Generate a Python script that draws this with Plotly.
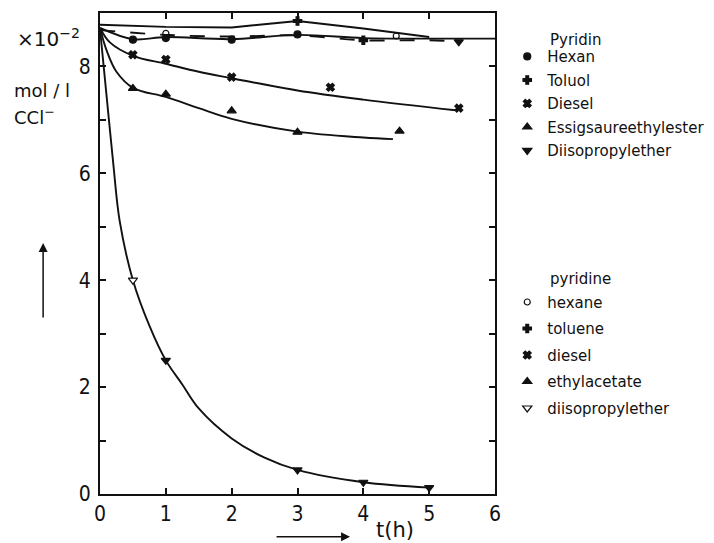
import plotly.graph_objects as go

# ---------------- data ----------------
# German legend group "Pyridin" (markers)
hexan_t = [0.5, 1, 2, 3]
hexan_c = [8.50, 8.53, 8.50, 8.60]
toluol_t = [4]
toluol_c = [8.49]
diesel_t = [0.5, 1, 2, 5.45]
diesel_c = [8.22, 8.13, 7.80, 7.22]
essig_t = [0.5, 1, 2, 3]
essig_c = [7.59, 7.48, 7.17, 6.77]
diiso_t = [1, 3, 4, 5, 5.45]
diiso_c = [2.50, 0.45, 0.22, 0.12, 8.46]

# English legend group "pyridine" (markers)
hexane_t = [1, 4.5]
hexane_c = [8.62, 8.57]
toluene_t = [3]
toluene_c = [8.85]
diesel_en_t = [3.5]
diesel_en_c = [7.61]
ethyl_t = [4.55]
ethyl_c = [6.79]
diiso_en_t = [0.5]
diiso_en_c = [4.00]

# drawn curves
curve_hexan_t = [0, 0.5, 1, 2, 3, 4, 5, 6]
curve_hexan_c = [8.72, 8.51, 8.55, 8.51, 8.59, 8.53, 8.52, 8.52]
curve_toluol_t = [0, 1, 2, 3, 4, 5, 5.45]
curve_toluol_c = [8.68, 8.59, 8.56, 8.58, 8.49, 8.49, 8.47]
curve_top_t = [0, 1, 2, 3, 4, 5]
curve_top_c = [8.78, 8.74, 8.73, 8.85, 8.71, 8.55]
curve_diesel_t = [0, 0.15, 0.5, 1, 1.5, 2, 3, 4, 5.4]
curve_diesel_c = [8.72, 8.45, 8.20, 8.05, 7.90, 7.78, 7.55, 7.38, 7.18]
curve_essig_t = [0, 0.1, 0.25, 0.5, 1, 1.5, 2, 3, 4, 4.45]
curve_essig_c = [8.72, 8.30, 7.90, 7.60, 7.43, 7.22, 7.02, 6.78, 6.67, 6.64]
curve_diiso_t = [0, 0.1, 0.2, 0.3, 0.5, 0.75, 1, 1.25, 1.5, 2, 2.5, 3, 4, 5]
curve_diiso_c = [8.70, 7.45, 6.20, 5.10, 4.00, 3.15, 2.50, 2.05, 1.60, 1.04, 0.68, 0.45, 0.22, 0.12]

x_ticks = [0, 1, 2, 3, 4, 5, 6]
y_ticks = [0, 1, 2, 3, 4, 5, 6, 7, 8]
y_ticktext = ["0", "", "2", "", "4", "", "6", "", "8"]

# ---------------- figure ----------------
FONT = "DejaVu Sans, Liberation Sans, sans-serif"
TICKFONT = "Liberation Sans Narrow, DejaVu Sans Condensed, sans-serif"
BLACK = "#111111"

fig = go.Figure()

def curve(t, c, shape="spline", dash="solid"):
    fig.add_trace(go.Scatter(x=t, y=c, mode="lines", showlegend=False,
                             line=dict(color=BLACK, width=1.9, shape=shape, dash=dash),
                             hoverinfo="skip"))

curve(curve_top_t, curve_top_c, shape="linear")
curve(curve_toluol_t, curve_toluol_c, dash="longdash")
curve(curve_hexan_t, curve_hexan_c)
curve(curve_diesel_t, curve_diesel_c)
curve(curve_essig_t, curve_essig_c)
curve(curve_diiso_t, curve_diiso_c)

def marks(t, c, name, symbol, size, legend, fill=BLACK):
    fig.add_trace(go.Scatter(x=t, y=c, mode="markers", name=name, legend=legend,
                             legendgroup=name,
                             marker=dict(symbol=symbol, size=size, color=fill,
                                         line=dict(color=BLACK, width=1.2))))

marks(hexan_t, hexan_c, "Hexan", "circle", 7, "legend")
marks(toluol_t, toluol_c, "Toluol", "cross", 7, "legend")
marks(diesel_t, diesel_c, "Diesel", "x", 7, "legend")
marks(essig_t, essig_c, "Essigsaureethylester", "triangle-up", 8, "legend")
marks(diiso_t, diiso_c, "Diisopropylether", "triangle-down", 8, "legend")

marks(hexane_t, hexane_c, "hexane", "circle-open", 6, "legend2")
marks(toluene_t, toluene_c, "toluene", "cross", 7, "legend2")
marks(diesel_en_t, diesel_en_c, "diesel", "x", 7, "legend2")
marks(ethyl_t, ethyl_c, "ethylacetate", "triangle-up", 8, "legend2")
marks(diiso_en_t, diiso_en_c, "diisopropylether", "triangle-down", 8, "legend2", fill="white")

axis_common = dict(showline=True, linecolor=BLACK, linewidth=2, mirror="ticks",
                   ticks="inside", ticklen=6, tickwidth=1.5, tickcolor=BLACK,
                   showgrid=False, zeroline=False,
                   tickfont=dict(family=TICKFONT, size=21, color=BLACK))

fig.update_layout(
    width=714, height=543,
    margin=dict(l=92, r=227, t=3, b=57),
    paper_bgcolor="white", plot_bgcolor="white",
    font=dict(family=FONT, color=BLACK),
    xaxis=dict(range=[0, 6], tickvals=x_ticks, ticklabelstandoff=0, **axis_common),
    yaxis=dict(range=[0, 9], tickvals=y_ticks, ticktext=y_ticktext, ticklabelstandoff=3,
               **axis_common),
    legend=dict(x=1.031, y=0.9435, xanchor="left", yanchor="top", bgcolor="rgba(0,0,0,0)",
                font=dict(family=FONT, size=15, color=BLACK), itemwidth=30,
                traceorder="grouped", tracegroupgap=1, itemclick=False),
    legend2=dict(x=1.031, y=0.433, xanchor="left", yanchor="top", bgcolor="rgba(0,0,0,0)",
                 font=dict(family=FONT, size=15, color=BLACK), itemwidth=30,
                 traceorder="grouped", tracegroupgap=4, itemclick=False),
    showlegend=True,
)

ann = [
    dict(text="×10<sup>−2</sup>", x=-0.215, y=0.948, xanchor="left", yanchor="middle", font=dict(size=20)),
    dict(text="mol / l", x=-0.222, y=0.838, xanchor="left", yanchor="middle", font=dict(size=18)),
    dict(text="CCl<sup>−</sup>", x=-0.222, y=0.785, xanchor="left", yanchor="middle", font=dict(size=18)),
    dict(text="Pyridin", x=1.134, y=0.944, xanchor="left", yanchor="middle", font=dict(size=15)),
    dict(text="pyridine", x=1.134, y=0.447, xanchor="left", yanchor="middle", font=dict(size=15)),
    dict(text="t(h)", x=0.747, y=-0.0745, xanchor="center", yanchor="middle", font=dict(size=21)),
]
for a in ann:
    fig.add_annotation(xref="paper", yref="paper", showarrow=False, **a)

# arrows
fig.add_annotation(xref="paper", yref="paper", x=-0.144, y=0.522, ax=0, ay=76,
                   text="", showarrow=True, arrowhead=2, arrowsize=1.2, arrowwidth=1.5,
                   arrowcolor=BLACK)
fig.add_annotation(xref="paper", yref="paper", x=0.633, y=-0.089, ax=-75, ay=0,
                   text="", showarrow=True, arrowhead=2, arrowsize=1.2, arrowwidth=1.5,
                   arrowcolor=BLACK)

fig.write_html("out.html")
